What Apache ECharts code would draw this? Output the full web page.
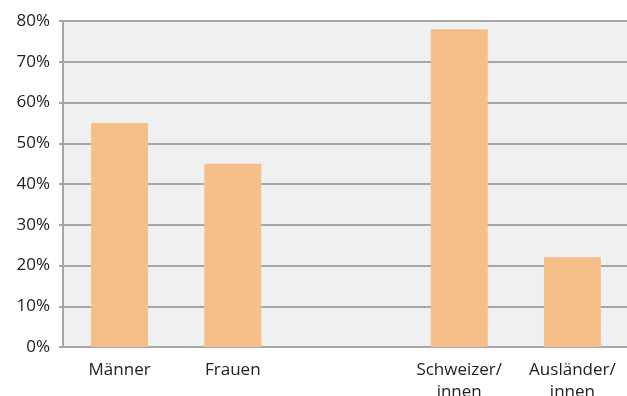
<!DOCTYPE html>
<html>
<head>
<meta charset="utf-8">
<script src="https://cdn.jsdelivr.net/npm/echarts@6/dist/echarts.min.js"></script>
<style>
  html, body { margin: 0; padding: 0; background: #ffffff; }
  #chart { width: 627px; height: 396px; }
</style>
</head>
<body>
<div id="chart"></div>
<script>
// Share by group, in percent; the empty slot separates the two pairs
const categories = ['Männer', 'Frauen', '', 'Schweizer/\ninnen', 'Ausländer/\ninnen'];
const shares = [55, 45, null, 78, 22];

const chart = echarts.init(document.getElementById('chart'), null, { renderer: 'canvas' });

const font = '"Open Sans", "DejaVu Sans", sans-serif';

chart.setOption({
  animation: false,
  backgroundColor: '#ffffff',
  grid: {
    left: 63,
    top: 21,
    width: 566,
    bottom: 49,
    show: true,
    backgroundColor: '#eff0f0',
    borderWidth: 0,
    containLabel: false,
    outerBoundsMode: 'none'
  },
  xAxis: {
    type: 'category',
    data: categories,
    axisLine: { show: true, lineStyle: { color: '#a6a6a6', width: 2 } },
    axisTick: { show: false },
    axisLabel: {
      color: '#222222',
      fontFamily: font,
      fontSize: 17,
      margin: 12,
      lineHeight: 22,
      interval: 0
    },
    splitLine: { show: false }
  },
  yAxis: {
    type: 'value',
    min: 0,
    max: 80,
    interval: 10,
    axisLine: { show: true, lineStyle: { color: '#a6a6a6', width: 2 } },
    axisTick: { show: true, length: 4, lineStyle: { color: '#a6a6a6', width: 2 } },
    axisLabel: {
      color: '#222222',
      fontFamily: font,
      fontSize: 17,
      margin: 13,
      formatter: '{value}%'
    },
    splitLine: { show: true, lineStyle: { color: '#a6a6a6', width: 2 } }
  },
  series: [{
    type: 'bar',
    data: shares,
    barWidth: 57,
    itemStyle: { color: '#f6be88' },
    silent: true
  }]
});
</script>
</body>
</html>
